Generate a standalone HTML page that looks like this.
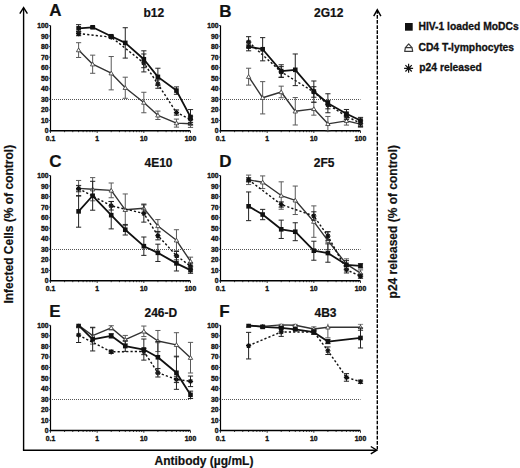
<!DOCTYPE html>
<html><head><meta charset="utf-8"><style>html,body{margin:0;padding:0;background:#fff;}svg{display:block;}</style></head>
<body>
<svg width="520" height="468" viewBox="0 0 520 468">
<rect width="520" height="468" fill="#fff"/>
<g stroke="#000" stroke-width="1.4" fill="none">
<path d="M23.6 450.2V8"/><path d="M19.8 13.6L23.6 7.6L27.4 13.6"/>
<path d="M22.9 450.2H376.6"/><path d="M370.8 446.5L376.8 450.2L370.8 453.9"/>
<path d="M377.3 9.98V449.5" stroke-dasharray="3.7,1.37"/><path d="M373.7 16.2L377.3 9.8L380.9 16.2"/>
</g>
<text font-family="Liberation Sans, sans-serif" font-weight="bold" font-size="12" transform="translate(13 224.2) rotate(-90)" text-anchor="middle" fill="#111" stroke="#111" stroke-width="0.2">Infected Cells (% of control)</text>
<text font-family="Liberation Sans, sans-serif" font-weight="bold" font-size="12" transform="translate(397.2 221.7) rotate(-90)" text-anchor="middle" fill="#111" stroke="#111" stroke-width="0.2">p24 released (% of control)</text>
<text font-family="Liberation Sans, sans-serif" font-weight="bold" font-size="12" x="154.5" y="464.8" fill="#111" stroke="#111" stroke-width="0.2">Antibody (µg/mL)</text>
<rect x="405" y="23" width="7.7" height="7.7" fill="#111"/>
<text font-family="Liberation Sans, sans-serif" font-weight="bold" font-size="10.3" x="418.5" y="29.9" fill="#111" stroke="#111" stroke-width="0.3">HIV-1 loaded MoDCs</text>
<g stroke="#3a3a3a" stroke-width="1.2" fill="none" stroke-linejoin="round"><path d="M408.7 43.9L405.4 47.6H412.0Z"/><path d="M405.4 47.6L404.7 51.3H412.7L412.0 47.6"/></g>
<text font-family="Liberation Sans, sans-serif" font-weight="bold" font-size="10.3" x="418.5" y="50.8" fill="#111" stroke="#111" stroke-width="0.3">CD4 T-lymphocytes</text>
<path d="M404.10 68.30L413.10 68.30M405.42 65.12L411.78 71.48M408.60 63.80L408.60 72.80M411.78 65.12L405.42 71.48" stroke="#111" stroke-width="1.2" fill="none"/><circle cx="408.6" cy="68.3" r="1.9" fill="#111"/>
<text font-family="Liberation Sans, sans-serif" font-weight="bold" font-size="10.3" x="419.3" y="71.3" fill="#111" stroke="#111" stroke-width="0.3">p24 released</text>
<text font-family="Liberation Sans, sans-serif" font-weight="bold" font-size="17" x="49.2" y="15.9" fill="#111" stroke="#111" stroke-width="0.2">A</text>
<text font-family="Liberation Sans, sans-serif" font-weight="bold" font-size="12" x="143.5" y="16.7" fill="#111" stroke="#111" stroke-width="0.2">b12</text>
<path d="M50.0 99.50H190.5" stroke="#555" stroke-width="1" stroke-dasharray="1,1"/>
<path d="M50.50 25.50V131.00" stroke="#000" stroke-width="1.2" fill="none"/>
<path d="M49.90 130.80H190.51" stroke="#000" stroke-width="1.5" fill="none"/>
<text font-family="Liberation Sans, sans-serif" font-weight="bold" font-size="6.8" x="48.5" y="133.45" text-anchor="end" fill="#111" stroke="#111" stroke-width="0.35">0</text>
<text font-family="Liberation Sans, sans-serif" font-weight="bold" font-size="6.8" x="48.5" y="122.90" text-anchor="end" fill="#111" stroke="#111" stroke-width="0.35">10</text>
<text font-family="Liberation Sans, sans-serif" font-weight="bold" font-size="6.8" x="48.5" y="112.35" text-anchor="end" fill="#111" stroke="#111" stroke-width="0.35">20</text>
<text font-family="Liberation Sans, sans-serif" font-weight="bold" font-size="6.8" x="48.5" y="101.80" text-anchor="end" fill="#111" stroke="#111" stroke-width="0.35">30</text>
<text font-family="Liberation Sans, sans-serif" font-weight="bold" font-size="6.8" x="48.5" y="91.25" text-anchor="end" fill="#111" stroke="#111" stroke-width="0.35">40</text>
<text font-family="Liberation Sans, sans-serif" font-weight="bold" font-size="6.8" x="48.5" y="80.70" text-anchor="end" fill="#111" stroke="#111" stroke-width="0.35">50</text>
<text font-family="Liberation Sans, sans-serif" font-weight="bold" font-size="6.8" x="48.5" y="70.15" text-anchor="end" fill="#111" stroke="#111" stroke-width="0.35">60</text>
<text font-family="Liberation Sans, sans-serif" font-weight="bold" font-size="6.8" x="48.5" y="59.60" text-anchor="end" fill="#111" stroke="#111" stroke-width="0.35">70</text>
<text font-family="Liberation Sans, sans-serif" font-weight="bold" font-size="6.8" x="48.5" y="49.05" text-anchor="end" fill="#111" stroke="#111" stroke-width="0.35">80</text>
<text font-family="Liberation Sans, sans-serif" font-weight="bold" font-size="6.8" x="48.5" y="38.50" text-anchor="end" fill="#111" stroke="#111" stroke-width="0.35">90</text>
<text font-family="Liberation Sans, sans-serif" font-weight="bold" font-size="6.8" x="48.5" y="27.95" text-anchor="end" fill="#111" stroke="#111" stroke-width="0.35">100</text>
<path d="M49.00 131.00H50.50M49.00 120.45H50.50M49.00 109.90H50.50M49.00 99.35H50.50M49.00 88.80H50.50M49.00 78.25H50.50M49.00 67.70H50.50M49.00 57.15H50.50M49.00 46.60H50.50M49.00 36.05H50.50M49.00 25.50H50.50M50.50 131.00v2M64.55 131.00v1.2M72.77 131.00v1.2M78.60 131.00v1.2M83.12 131.00v1.2M86.82 131.00v1.2M89.94 131.00v1.2M92.65 131.00v1.2M95.03 131.00v1.2M97.17 131.00v2M111.22 131.00v1.2M119.44 131.00v1.2M125.27 131.00v1.2M129.79 131.00v1.2M133.49 131.00v1.2M136.61 131.00v1.2M139.32 131.00v1.2M141.70 131.00v1.2M143.84 131.00v2M157.89 131.00v1.2M166.11 131.00v1.2M171.94 131.00v1.2M176.46 131.00v1.2M180.16 131.00v1.2M183.28 131.00v1.2M185.99 131.00v1.2M188.37 131.00v1.2M190.51 131.00v2" stroke="#222" stroke-width="0.9"/>
<text font-family="Liberation Sans, sans-serif" font-weight="bold" font-size="6.8" x="50.50" y="140.90" text-anchor="middle" fill="#111" stroke="#111" stroke-width="0.35">0.1</text>
<text font-family="Liberation Sans, sans-serif" font-weight="bold" font-size="6.8" x="97.17" y="140.90" text-anchor="middle" fill="#111" stroke="#111" stroke-width="0.35">1</text>
<text font-family="Liberation Sans, sans-serif" font-weight="bold" font-size="6.8" x="143.84" y="140.90" text-anchor="middle" fill="#111" stroke="#111" stroke-width="0.35">10</text>
<text font-family="Liberation Sans, sans-serif" font-weight="bold" font-size="6.8" x="190.51" y="140.90" text-anchor="middle" fill="#111" stroke="#111" stroke-width="0.35">100</text>
<clipPath id="cA"><rect x="45.5" y="24.0" width="150" height="112"/></clipPath>
<g clip-path="url(#cA)">
<path d="M78.60 42.70V57.47M76.00 42.70h5.2M76.00 57.47h5.2M92.65 55.15V73.29M90.05 55.15h5.2M90.05 73.29h5.2M111.22 56.52V89.86M108.62 56.52h5.2M108.62 89.86h5.2M125.27 77.20V98.30M122.67 77.20h5.2M122.67 98.30h5.2M143.84 92.28V112.75M141.24 92.28h5.2M141.24 112.75h5.2M157.89 111.06V119.50M155.29 111.06h5.2M155.29 119.50h5.2M176.46 119.08V127.10M173.86 119.08h5.2M173.86 127.10h5.2M190.51 120.03V127.41M187.91 120.03h5.2M187.91 127.41h5.2" stroke="#5a5a5a" stroke-width="1" fill="none"/>
<path d="M78.60 50.08L92.65 64.22L111.22 73.19L125.27 87.75L143.84 102.52L157.89 115.28L176.46 123.09L190.51 123.72" stroke="#333" stroke-width="1.4" fill="none" stroke-linejoin="round"/>
<path d="M78.60 47.98L80.80 51.78H76.40Z" stroke="#444" stroke-width="0.9" fill="#fff"/>
<path d="M92.65 62.12L94.85 65.92H90.45Z" stroke="#444" stroke-width="0.9" fill="#fff"/>
<path d="M111.22 71.09L113.42 74.89H109.02Z" stroke="#444" stroke-width="0.9" fill="#fff"/>
<path d="M125.27 85.65L127.47 89.45H123.07Z" stroke="#444" stroke-width="0.9" fill="#fff"/>
<path d="M143.84 100.42L146.04 104.22H141.64Z" stroke="#444" stroke-width="0.9" fill="#fff"/>
<path d="M157.89 113.18L160.09 116.98H155.69Z" stroke="#444" stroke-width="0.9" fill="#fff"/>
<path d="M176.46 120.99L178.66 124.79H174.26Z" stroke="#444" stroke-width="0.9" fill="#fff"/>
<path d="M190.51 121.62L192.71 125.42H188.31Z" stroke="#444" stroke-width="0.9" fill="#fff"/>
<path d="M78.60 31.51V35.73M76.00 31.51h5.2M76.00 35.73h5.2M111.22 36.05V38.16M108.62 36.05h5.2M108.62 38.16h5.2M143.84 53.98V71.92M141.24 53.98h5.2M141.24 71.92h5.2M157.89 79.83V88.27M155.29 79.83h5.2M155.29 88.27h5.2M176.46 109.90V115.17M173.86 109.90h5.2M173.86 115.17h5.2M190.51 116.23V122.56M187.91 116.23h5.2M187.91 122.56h5.2" stroke="#222" stroke-width="1" fill="none"/>
<path d="M78.60 33.62L111.22 37.11L143.84 62.95L157.89 84.05L176.46 112.54L190.51 119.39" stroke="#111" stroke-width="1.45" fill="none" stroke-linejoin="round" stroke-dasharray="2.2,2.1"/>
<path d="M76.00 33.62L81.20 33.62M76.76 31.79L80.44 35.46M78.60 31.02L78.60 36.22M80.44 31.79L76.76 35.46" stroke="#111" stroke-width="1.2" fill="none"/>
<path d="M108.62 37.11L113.82 37.11M109.38 35.27L113.06 38.94M111.22 34.51L111.22 39.71M113.06 35.27L109.38 38.94" stroke="#111" stroke-width="1.2" fill="none"/>
<path d="M141.24 62.95L146.44 62.95M142.00 61.11L145.68 64.79M143.84 60.35L143.84 65.55M145.68 61.11L142.00 64.79" stroke="#111" stroke-width="1.2" fill="none"/>
<path d="M155.29 84.05L160.49 84.05M156.05 82.21L159.73 85.89M157.89 81.45L157.89 86.65M159.73 82.21L156.05 85.89" stroke="#111" stroke-width="1.2" fill="none"/>
<path d="M173.86 112.54L179.06 112.54M174.62 110.70L178.30 114.38M176.46 109.94L176.46 115.14M178.30 110.70L174.62 114.38" stroke="#111" stroke-width="1.2" fill="none"/>
<path d="M187.91 119.39L193.11 119.39M188.67 117.56L192.35 121.23M190.51 116.80L190.51 121.99M192.35 117.56L188.67 121.23" stroke="#111" stroke-width="1.2" fill="none"/>
<path d="M78.60 24.66V32.04M76.00 24.66h5.2M76.00 32.04h5.2M92.65 26.24V28.35M90.05 26.24h5.2M90.05 28.35h5.2M111.22 35.21V37.32M108.62 35.21h5.2M108.62 37.32h5.2M125.27 27.72V58.10M122.67 27.72h5.2M122.67 58.10h5.2M143.84 50.82V67.70M141.24 50.82h5.2M141.24 67.70h5.2M157.89 68.23V85.53M155.29 68.23h5.2M155.29 85.53h5.2M176.46 86.90V94.29M173.86 86.90h5.2M173.86 94.29h5.2M190.51 109.58V124.35M187.91 109.58h5.2M187.91 124.35h5.2" stroke="#222" stroke-width="1" fill="none"/>
<path d="M78.60 28.35L92.65 27.29L111.22 36.26L125.27 42.91L143.84 59.26L157.89 76.88L176.46 90.59L190.51 116.97" stroke="#111" stroke-width="1.8" fill="none" stroke-linejoin="round"/>
<rect x="76.30" y="26.05" width="4.6" height="4.6" fill="#111"/>
<rect x="90.35" y="24.99" width="4.6" height="4.6" fill="#111"/>
<rect x="108.92" y="33.96" width="4.6" height="4.6" fill="#111"/>
<rect x="122.97" y="40.61" width="4.6" height="4.6" fill="#111"/>
<rect x="141.54" y="56.96" width="4.6" height="4.6" fill="#111"/>
<rect x="155.59" y="74.58" width="4.6" height="4.6" fill="#111"/>
<rect x="174.16" y="88.29" width="4.6" height="4.6" fill="#111"/>
<rect x="188.21" y="114.67" width="4.6" height="4.6" fill="#111"/>
</g>
<text font-family="Liberation Sans, sans-serif" font-weight="bold" font-size="17" x="219.2" y="16.7" fill="#111" stroke="#111" stroke-width="0.2">B</text>
<text font-family="Liberation Sans, sans-serif" font-weight="bold" font-size="12" x="314.0" y="16.7" fill="#111" stroke="#111" stroke-width="0.2">2G12</text>
<path d="M220.0 99.50H360.5" stroke="#555" stroke-width="1" stroke-dasharray="1,1"/>
<path d="M220.50 25.50V131.00" stroke="#000" stroke-width="1.2" fill="none"/>
<path d="M219.90 130.80H360.51" stroke="#000" stroke-width="1.5" fill="none"/>
<text font-family="Liberation Sans, sans-serif" font-weight="bold" font-size="6.8" x="218.5" y="133.45" text-anchor="end" fill="#111" stroke="#111" stroke-width="0.35">0</text>
<text font-family="Liberation Sans, sans-serif" font-weight="bold" font-size="6.8" x="218.5" y="122.90" text-anchor="end" fill="#111" stroke="#111" stroke-width="0.35">10</text>
<text font-family="Liberation Sans, sans-serif" font-weight="bold" font-size="6.8" x="218.5" y="112.35" text-anchor="end" fill="#111" stroke="#111" stroke-width="0.35">20</text>
<text font-family="Liberation Sans, sans-serif" font-weight="bold" font-size="6.8" x="218.5" y="101.80" text-anchor="end" fill="#111" stroke="#111" stroke-width="0.35">30</text>
<text font-family="Liberation Sans, sans-serif" font-weight="bold" font-size="6.8" x="218.5" y="91.25" text-anchor="end" fill="#111" stroke="#111" stroke-width="0.35">40</text>
<text font-family="Liberation Sans, sans-serif" font-weight="bold" font-size="6.8" x="218.5" y="80.70" text-anchor="end" fill="#111" stroke="#111" stroke-width="0.35">50</text>
<text font-family="Liberation Sans, sans-serif" font-weight="bold" font-size="6.8" x="218.5" y="70.15" text-anchor="end" fill="#111" stroke="#111" stroke-width="0.35">60</text>
<text font-family="Liberation Sans, sans-serif" font-weight="bold" font-size="6.8" x="218.5" y="59.60" text-anchor="end" fill="#111" stroke="#111" stroke-width="0.35">70</text>
<text font-family="Liberation Sans, sans-serif" font-weight="bold" font-size="6.8" x="218.5" y="49.05" text-anchor="end" fill="#111" stroke="#111" stroke-width="0.35">80</text>
<text font-family="Liberation Sans, sans-serif" font-weight="bold" font-size="6.8" x="218.5" y="38.50" text-anchor="end" fill="#111" stroke="#111" stroke-width="0.35">90</text>
<text font-family="Liberation Sans, sans-serif" font-weight="bold" font-size="6.8" x="218.5" y="27.95" text-anchor="end" fill="#111" stroke="#111" stroke-width="0.35">100</text>
<path d="M219.00 131.00H220.50M219.00 120.45H220.50M219.00 109.90H220.50M219.00 99.35H220.50M219.00 88.80H220.50M219.00 78.25H220.50M219.00 67.70H220.50M219.00 57.15H220.50M219.00 46.60H220.50M219.00 36.05H220.50M219.00 25.50H220.50M220.50 131.00v2M234.55 131.00v1.2M242.77 131.00v1.2M248.60 131.00v1.2M253.12 131.00v1.2M256.82 131.00v1.2M259.94 131.00v1.2M262.65 131.00v1.2M265.03 131.00v1.2M267.17 131.00v2M281.22 131.00v1.2M289.44 131.00v1.2M295.27 131.00v1.2M299.79 131.00v1.2M303.49 131.00v1.2M306.61 131.00v1.2M309.32 131.00v1.2M311.70 131.00v1.2M313.84 131.00v2M327.89 131.00v1.2M336.11 131.00v1.2M341.94 131.00v1.2M346.46 131.00v1.2M350.16 131.00v1.2M353.28 131.00v1.2M355.99 131.00v1.2M358.37 131.00v1.2M360.51 131.00v2" stroke="#222" stroke-width="0.9"/>
<text font-family="Liberation Sans, sans-serif" font-weight="bold" font-size="6.8" x="220.50" y="140.90" text-anchor="middle" fill="#111" stroke="#111" stroke-width="0.35">0.1</text>
<text font-family="Liberation Sans, sans-serif" font-weight="bold" font-size="6.8" x="267.17" y="140.90" text-anchor="middle" fill="#111" stroke="#111" stroke-width="0.35">1</text>
<text font-family="Liberation Sans, sans-serif" font-weight="bold" font-size="6.8" x="313.84" y="140.90" text-anchor="middle" fill="#111" stroke="#111" stroke-width="0.35">10</text>
<text font-family="Liberation Sans, sans-serif" font-weight="bold" font-size="6.8" x="360.51" y="140.90" text-anchor="middle" fill="#111" stroke="#111" stroke-width="0.35">100</text>
<clipPath id="cB"><rect x="215.5" y="24.0" width="150" height="112"/></clipPath>
<g clip-path="url(#cB)">
<path d="M248.60 68.23V85.11M246.00 68.23h5.2M246.00 85.11h5.2M262.65 81.63V113.91M260.05 81.63h5.2M260.05 113.91h5.2M281.22 86.16V97.77M278.62 86.16h5.2M278.62 97.77h5.2M295.27 97.56V124.99M292.67 97.56h5.2M292.67 124.99h5.2M313.84 102.52V115.17M311.24 102.52h5.2M311.24 115.17h5.2M327.89 116.44V131.21M325.29 116.44h5.2M325.29 131.21h5.2M346.46 116.65V125.09M343.86 116.65h5.2M343.86 125.09h5.2M360.51 120.98V127.31M357.91 120.98h5.2M357.91 127.31h5.2" stroke="#5a5a5a" stroke-width="1" fill="none"/>
<path d="M248.60 76.67L262.65 97.77L281.22 91.97L295.27 111.27L313.84 108.84L327.89 123.83L346.46 120.87L360.51 124.14" stroke="#333" stroke-width="1.4" fill="none" stroke-linejoin="round"/>
<path d="M248.60 74.57L250.80 78.37H246.40Z" stroke="#444" stroke-width="0.9" fill="#fff"/>
<path d="M262.65 95.67L264.85 99.47H260.45Z" stroke="#444" stroke-width="0.9" fill="#fff"/>
<path d="M281.22 89.87L283.42 93.67H279.02Z" stroke="#444" stroke-width="0.9" fill="#fff"/>
<path d="M295.27 109.17L297.47 112.97H293.07Z" stroke="#444" stroke-width="0.9" fill="#fff"/>
<path d="M313.84 106.75L316.04 110.55H311.64Z" stroke="#444" stroke-width="0.9" fill="#fff"/>
<path d="M327.89 121.73L330.09 125.53H325.69Z" stroke="#444" stroke-width="0.9" fill="#fff"/>
<path d="M346.46 118.77L348.66 122.57H344.26Z" stroke="#444" stroke-width="0.9" fill="#fff"/>
<path d="M360.51 122.04L362.71 125.84H358.31Z" stroke="#444" stroke-width="0.9" fill="#fff"/>
<path d="M248.60 36.68V47.23M246.00 36.68h5.2M246.00 47.23h5.2M281.22 66.64V77.20M278.62 66.64h5.2M278.62 77.20h5.2M313.84 86.69V97.24M311.24 86.69h5.2M311.24 97.24h5.2M327.89 100.41V108.84M325.29 100.41h5.2M325.29 108.84h5.2M346.46 113.06V119.40M343.86 113.06h5.2M343.86 119.40h5.2M360.51 120.13V126.46M357.91 120.13h5.2M357.91 126.46h5.2" stroke="#222" stroke-width="1" fill="none"/>
<path d="M248.60 41.96L281.22 71.92L313.84 91.97L327.89 104.62L346.46 116.23L360.51 123.30" stroke="#111" stroke-width="1.45" fill="none" stroke-linejoin="round" stroke-dasharray="2.2,2.1"/>
<path d="M246.00 41.96L251.20 41.96M246.76 40.12L250.44 43.80M248.60 39.36L248.60 44.56M250.44 40.12L246.76 43.80" stroke="#111" stroke-width="1.2" fill="none"/>
<path d="M278.62 71.92L283.82 71.92M279.38 70.08L283.06 73.76M281.22 69.32L281.22 74.52M283.06 70.08L279.38 73.76" stroke="#111" stroke-width="1.2" fill="none"/>
<path d="M311.24 91.97L316.44 91.97M312.00 90.13L315.68 93.80M313.84 89.37L313.84 94.56M315.68 90.13L312.00 93.80" stroke="#111" stroke-width="1.2" fill="none"/>
<path d="M325.29 104.62L330.49 104.62M326.05 102.79L329.73 106.46M327.89 102.03L327.89 107.22M329.73 102.79L326.05 106.46" stroke="#111" stroke-width="1.2" fill="none"/>
<path d="M343.86 116.23L349.06 116.23M344.62 114.39L348.30 118.07M346.46 113.63L346.46 118.83M348.30 114.39L344.62 118.07" stroke="#111" stroke-width="1.2" fill="none"/>
<path d="M357.91 123.30L363.11 123.30M358.67 121.46L362.35 125.14M360.51 120.70L360.51 125.90M362.35 121.46L358.67 125.14" stroke="#111" stroke-width="1.2" fill="none"/>
<path d="M248.60 42.38V50.82M246.00 42.38h5.2M246.00 50.82h5.2M262.65 37.63V60.84M260.05 37.63h5.2M260.05 60.84h5.2M281.22 64.75V77.41M278.62 64.75h5.2M278.62 77.41h5.2M295.27 53.98V85.64M292.67 53.98h5.2M292.67 85.64h5.2M313.84 80.99V102.09M311.24 80.99h5.2M311.24 102.09h5.2M327.89 93.76V112.75M325.29 93.76h5.2M325.29 112.75h5.2M346.46 109.48V117.92M343.86 109.48h5.2M343.86 117.92h5.2M360.51 117.39V123.72M357.91 117.39h5.2M357.91 123.72h5.2" stroke="#222" stroke-width="1" fill="none"/>
<path d="M248.60 46.60L262.65 49.24L281.22 71.08L295.27 69.81L313.84 91.54L327.89 103.25L346.46 113.70L360.51 120.56" stroke="#111" stroke-width="1.8" fill="none" stroke-linejoin="round"/>
<rect x="246.30" y="44.30" width="4.6" height="4.6" fill="#111"/>
<rect x="260.35" y="46.94" width="4.6" height="4.6" fill="#111"/>
<rect x="278.92" y="68.78" width="4.6" height="4.6" fill="#111"/>
<rect x="292.97" y="67.51" width="4.6" height="4.6" fill="#111"/>
<rect x="311.54" y="89.24" width="4.6" height="4.6" fill="#111"/>
<rect x="325.59" y="100.95" width="4.6" height="4.6" fill="#111"/>
<rect x="344.16" y="111.40" width="4.6" height="4.6" fill="#111"/>
<rect x="358.21" y="118.26" width="4.6" height="4.6" fill="#111"/>
</g>
<text font-family="Liberation Sans, sans-serif" font-weight="bold" font-size="17" x="49.2" y="166.7" fill="#111" stroke="#111" stroke-width="0.2">C</text>
<text font-family="Liberation Sans, sans-serif" font-weight="bold" font-size="12" x="144.5" y="166.7" fill="#111" stroke="#111" stroke-width="0.2">4E10</text>
<path d="M50.0 249.50H190.5" stroke="#555" stroke-width="1" stroke-dasharray="1,1"/>
<path d="M50.50 175.50V281.00" stroke="#000" stroke-width="1.2" fill="none"/>
<path d="M49.90 280.80H190.51" stroke="#000" stroke-width="1.5" fill="none"/>
<text font-family="Liberation Sans, sans-serif" font-weight="bold" font-size="6.8" x="48.5" y="283.45" text-anchor="end" fill="#111" stroke="#111" stroke-width="0.35">0</text>
<text font-family="Liberation Sans, sans-serif" font-weight="bold" font-size="6.8" x="48.5" y="272.90" text-anchor="end" fill="#111" stroke="#111" stroke-width="0.35">10</text>
<text font-family="Liberation Sans, sans-serif" font-weight="bold" font-size="6.8" x="48.5" y="262.35" text-anchor="end" fill="#111" stroke="#111" stroke-width="0.35">20</text>
<text font-family="Liberation Sans, sans-serif" font-weight="bold" font-size="6.8" x="48.5" y="251.80" text-anchor="end" fill="#111" stroke="#111" stroke-width="0.35">30</text>
<text font-family="Liberation Sans, sans-serif" font-weight="bold" font-size="6.8" x="48.5" y="241.25" text-anchor="end" fill="#111" stroke="#111" stroke-width="0.35">40</text>
<text font-family="Liberation Sans, sans-serif" font-weight="bold" font-size="6.8" x="48.5" y="230.70" text-anchor="end" fill="#111" stroke="#111" stroke-width="0.35">50</text>
<text font-family="Liberation Sans, sans-serif" font-weight="bold" font-size="6.8" x="48.5" y="220.15" text-anchor="end" fill="#111" stroke="#111" stroke-width="0.35">60</text>
<text font-family="Liberation Sans, sans-serif" font-weight="bold" font-size="6.8" x="48.5" y="209.60" text-anchor="end" fill="#111" stroke="#111" stroke-width="0.35">70</text>
<text font-family="Liberation Sans, sans-serif" font-weight="bold" font-size="6.8" x="48.5" y="199.05" text-anchor="end" fill="#111" stroke="#111" stroke-width="0.35">80</text>
<text font-family="Liberation Sans, sans-serif" font-weight="bold" font-size="6.8" x="48.5" y="188.50" text-anchor="end" fill="#111" stroke="#111" stroke-width="0.35">90</text>
<text font-family="Liberation Sans, sans-serif" font-weight="bold" font-size="6.8" x="48.5" y="177.95" text-anchor="end" fill="#111" stroke="#111" stroke-width="0.35">100</text>
<path d="M49.00 281.00H50.50M49.00 270.45H50.50M49.00 259.90H50.50M49.00 249.35H50.50M49.00 238.80H50.50M49.00 228.25H50.50M49.00 217.70H50.50M49.00 207.15H50.50M49.00 196.60H50.50M49.00 186.05H50.50M49.00 175.50H50.50M50.50 281.00v2M64.55 281.00v1.2M72.77 281.00v1.2M78.60 281.00v1.2M83.12 281.00v1.2M86.82 281.00v1.2M89.94 281.00v1.2M92.65 281.00v1.2M95.03 281.00v1.2M97.17 281.00v2M111.22 281.00v1.2M119.44 281.00v1.2M125.27 281.00v1.2M129.79 281.00v1.2M133.49 281.00v1.2M136.61 281.00v1.2M139.32 281.00v1.2M141.70 281.00v1.2M143.84 281.00v2M157.89 281.00v1.2M166.11 281.00v1.2M171.94 281.00v1.2M176.46 281.00v1.2M180.16 281.00v1.2M183.28 281.00v1.2M185.99 281.00v1.2M188.37 281.00v1.2M190.51 281.00v2" stroke="#222" stroke-width="0.9"/>
<text font-family="Liberation Sans, sans-serif" font-weight="bold" font-size="6.8" x="50.50" y="290.90" text-anchor="middle" fill="#111" stroke="#111" stroke-width="0.35">0.1</text>
<text font-family="Liberation Sans, sans-serif" font-weight="bold" font-size="6.8" x="97.17" y="290.90" text-anchor="middle" fill="#111" stroke="#111" stroke-width="0.35">1</text>
<text font-family="Liberation Sans, sans-serif" font-weight="bold" font-size="6.8" x="143.84" y="290.90" text-anchor="middle" fill="#111" stroke="#111" stroke-width="0.35">10</text>
<text font-family="Liberation Sans, sans-serif" font-weight="bold" font-size="6.8" x="190.51" y="290.90" text-anchor="middle" fill="#111" stroke="#111" stroke-width="0.35">100</text>
<clipPath id="cC"><rect x="45.5" y="174.0" width="150" height="112"/></clipPath>
<g clip-path="url(#cC)">
<path d="M78.60 180.46V196.28M76.00 180.46h5.2M76.00 196.28h5.2M92.65 177.61V200.82M90.05 177.61h5.2M90.05 200.82h5.2M111.22 182.99V197.76M108.62 182.99h5.2M108.62 197.76h5.2M125.27 193.96V225.61M122.67 193.96h5.2M122.67 225.61h5.2M143.84 203.98V212.42M141.24 203.98h5.2M141.24 212.42h5.2M157.89 219.60V232.26M155.29 219.60h5.2M155.29 232.26h5.2M176.46 229.73V250.83M173.86 229.73h5.2M173.86 250.83h5.2M190.51 257.16V265.60M187.91 257.16h5.2M187.91 265.60h5.2" stroke="#5a5a5a" stroke-width="1" fill="none"/>
<path d="M78.60 188.37L92.65 189.22L111.22 190.38L125.27 209.79L143.84 208.20L157.89 225.93L176.46 240.28L190.51 261.38" stroke="#333" stroke-width="1.4" fill="none" stroke-linejoin="round"/>
<path d="M78.60 186.27L80.80 190.07H76.40Z" stroke="#444" stroke-width="0.9" fill="#fff"/>
<path d="M92.65 187.12L94.85 190.91H90.45Z" stroke="#444" stroke-width="0.9" fill="#fff"/>
<path d="M111.22 188.28L113.42 192.08H109.02Z" stroke="#444" stroke-width="0.9" fill="#fff"/>
<path d="M125.27 207.69L127.47 211.49H123.07Z" stroke="#444" stroke-width="0.9" fill="#fff"/>
<path d="M143.84 206.10L146.04 209.90H141.64Z" stroke="#444" stroke-width="0.9" fill="#fff"/>
<path d="M157.89 223.83L160.09 227.63H155.69Z" stroke="#444" stroke-width="0.9" fill="#fff"/>
<path d="M176.46 238.18L178.66 241.98H174.26Z" stroke="#444" stroke-width="0.9" fill="#fff"/>
<path d="M190.51 259.28L192.71 263.08H188.31Z" stroke="#444" stroke-width="0.9" fill="#fff"/>
<path d="M78.60 185.42V191.75M76.00 185.42h5.2M76.00 191.75h5.2M111.22 201.56V210.00M108.62 201.56h5.2M108.62 210.00h5.2M143.84 204.83V222.13M141.24 204.83h5.2M141.24 222.13h5.2M157.89 231.41V239.85M155.29 231.41h5.2M155.29 239.85h5.2M176.46 251.46V259.90M173.86 251.46h5.2M173.86 259.90h5.2M190.51 263.06V269.40M187.91 263.06h5.2M187.91 269.40h5.2" stroke="#222" stroke-width="1" fill="none"/>
<path d="M78.60 188.58L111.22 205.78L143.84 213.48L157.89 235.63L176.46 255.68L190.51 266.23" stroke="#111" stroke-width="1.45" fill="none" stroke-linejoin="round" stroke-dasharray="2.2,2.1"/>
<path d="M76.00 188.58L81.20 188.58M76.76 186.74L80.44 190.42M78.60 185.98L78.60 191.18M80.44 186.74L76.76 190.42" stroke="#111" stroke-width="1.2" fill="none"/>
<path d="M108.62 205.78L113.82 205.78M109.38 203.94L113.06 207.62M111.22 203.18L111.22 208.38M113.06 203.94L109.38 207.62" stroke="#111" stroke-width="1.2" fill="none"/>
<path d="M141.24 213.48L146.44 213.48M142.00 211.64L145.68 215.32M143.84 210.88L143.84 216.08M145.68 211.64L142.00 215.32" stroke="#111" stroke-width="1.2" fill="none"/>
<path d="M155.29 235.63L160.49 235.63M156.05 233.80L159.73 237.47M157.89 233.03L157.89 238.23M159.73 233.80L156.05 237.47" stroke="#111" stroke-width="1.2" fill="none"/>
<path d="M173.86 255.68L179.06 255.68M174.62 253.84L178.30 257.52M176.46 253.08L176.46 258.28M178.30 253.84L174.62 257.52" stroke="#111" stroke-width="1.2" fill="none"/>
<path d="M187.91 266.23L193.11 266.23M188.67 264.39L192.35 268.07M190.51 263.63L190.51 268.83M192.35 264.39L188.67 268.07" stroke="#111" stroke-width="1.2" fill="none"/>
<path d="M78.60 195.55V227.19M76.00 195.55h5.2M76.00 227.19h5.2M92.65 181.30V210.21M90.05 181.30h5.2M90.05 210.21h5.2M111.22 201.45V228.88M108.62 201.45h5.2M108.62 228.88h5.2M125.27 224.45V235.00M122.67 224.45h5.2M122.67 235.00h5.2M143.84 237.01V255.36M141.24 237.01h5.2M141.24 255.36h5.2M157.89 244.18V261.48M155.29 244.18h5.2M155.29 261.48h5.2M176.46 255.79V270.98M173.86 255.79h5.2M173.86 270.98h5.2M190.51 266.97V273.30M187.91 266.97h5.2M187.91 273.30h5.2" stroke="#222" stroke-width="1" fill="none"/>
<path d="M78.60 211.37L92.65 195.76L111.22 215.17L125.27 229.73L143.84 246.19L157.89 252.83L176.46 263.38L190.51 270.13" stroke="#111" stroke-width="1.8" fill="none" stroke-linejoin="round"/>
<rect x="76.30" y="209.07" width="4.6" height="4.6" fill="#111"/>
<rect x="90.35" y="193.46" width="4.6" height="4.6" fill="#111"/>
<rect x="108.92" y="212.87" width="4.6" height="4.6" fill="#111"/>
<rect x="122.97" y="227.43" width="4.6" height="4.6" fill="#111"/>
<rect x="141.54" y="243.88" width="4.6" height="4.6" fill="#111"/>
<rect x="155.59" y="250.53" width="4.6" height="4.6" fill="#111"/>
<rect x="174.16" y="261.08" width="4.6" height="4.6" fill="#111"/>
<rect x="188.21" y="267.83" width="4.6" height="4.6" fill="#111"/>
</g>
<text font-family="Liberation Sans, sans-serif" font-weight="bold" font-size="17" x="219.2" y="166.7" fill="#111" stroke="#111" stroke-width="0.2">D</text>
<text font-family="Liberation Sans, sans-serif" font-weight="bold" font-size="12" x="313.8" y="166.7" fill="#111" stroke="#111" stroke-width="0.2">2F5</text>
<path d="M220.0 249.50H360.5" stroke="#555" stroke-width="1" stroke-dasharray="1,1"/>
<path d="M220.50 175.50V281.00" stroke="#000" stroke-width="1.2" fill="none"/>
<path d="M219.90 280.80H360.51" stroke="#000" stroke-width="1.5" fill="none"/>
<text font-family="Liberation Sans, sans-serif" font-weight="bold" font-size="6.8" x="218.5" y="283.45" text-anchor="end" fill="#111" stroke="#111" stroke-width="0.35">0</text>
<text font-family="Liberation Sans, sans-serif" font-weight="bold" font-size="6.8" x="218.5" y="272.90" text-anchor="end" fill="#111" stroke="#111" stroke-width="0.35">10</text>
<text font-family="Liberation Sans, sans-serif" font-weight="bold" font-size="6.8" x="218.5" y="262.35" text-anchor="end" fill="#111" stroke="#111" stroke-width="0.35">20</text>
<text font-family="Liberation Sans, sans-serif" font-weight="bold" font-size="6.8" x="218.5" y="251.80" text-anchor="end" fill="#111" stroke="#111" stroke-width="0.35">30</text>
<text font-family="Liberation Sans, sans-serif" font-weight="bold" font-size="6.8" x="218.5" y="241.25" text-anchor="end" fill="#111" stroke="#111" stroke-width="0.35">40</text>
<text font-family="Liberation Sans, sans-serif" font-weight="bold" font-size="6.8" x="218.5" y="230.70" text-anchor="end" fill="#111" stroke="#111" stroke-width="0.35">50</text>
<text font-family="Liberation Sans, sans-serif" font-weight="bold" font-size="6.8" x="218.5" y="220.15" text-anchor="end" fill="#111" stroke="#111" stroke-width="0.35">60</text>
<text font-family="Liberation Sans, sans-serif" font-weight="bold" font-size="6.8" x="218.5" y="209.60" text-anchor="end" fill="#111" stroke="#111" stroke-width="0.35">70</text>
<text font-family="Liberation Sans, sans-serif" font-weight="bold" font-size="6.8" x="218.5" y="199.05" text-anchor="end" fill="#111" stroke="#111" stroke-width="0.35">80</text>
<text font-family="Liberation Sans, sans-serif" font-weight="bold" font-size="6.8" x="218.5" y="188.50" text-anchor="end" fill="#111" stroke="#111" stroke-width="0.35">90</text>
<text font-family="Liberation Sans, sans-serif" font-weight="bold" font-size="6.8" x="218.5" y="177.95" text-anchor="end" fill="#111" stroke="#111" stroke-width="0.35">100</text>
<path d="M219.00 281.00H220.50M219.00 270.45H220.50M219.00 259.90H220.50M219.00 249.35H220.50M219.00 238.80H220.50M219.00 228.25H220.50M219.00 217.70H220.50M219.00 207.15H220.50M219.00 196.60H220.50M219.00 186.05H220.50M219.00 175.50H220.50M220.50 281.00v2M234.55 281.00v1.2M242.77 281.00v1.2M248.60 281.00v1.2M253.12 281.00v1.2M256.82 281.00v1.2M259.94 281.00v1.2M262.65 281.00v1.2M265.03 281.00v1.2M267.17 281.00v2M281.22 281.00v1.2M289.44 281.00v1.2M295.27 281.00v1.2M299.79 281.00v1.2M303.49 281.00v1.2M306.61 281.00v1.2M309.32 281.00v1.2M311.70 281.00v1.2M313.84 281.00v2M327.89 281.00v1.2M336.11 281.00v1.2M341.94 281.00v1.2M346.46 281.00v1.2M350.16 281.00v1.2M353.28 281.00v1.2M355.99 281.00v1.2M358.37 281.00v1.2M360.51 281.00v2" stroke="#222" stroke-width="0.9"/>
<text font-family="Liberation Sans, sans-serif" font-weight="bold" font-size="6.8" x="220.50" y="290.90" text-anchor="middle" fill="#111" stroke="#111" stroke-width="0.35">0.1</text>
<text font-family="Liberation Sans, sans-serif" font-weight="bold" font-size="6.8" x="267.17" y="290.90" text-anchor="middle" fill="#111" stroke="#111" stroke-width="0.35">1</text>
<text font-family="Liberation Sans, sans-serif" font-weight="bold" font-size="6.8" x="313.84" y="290.90" text-anchor="middle" fill="#111" stroke="#111" stroke-width="0.35">10</text>
<text font-family="Liberation Sans, sans-serif" font-weight="bold" font-size="6.8" x="360.51" y="290.90" text-anchor="middle" fill="#111" stroke="#111" stroke-width="0.35">100</text>
<clipPath id="cD"><rect x="215.5" y="174.0" width="150" height="112"/></clipPath>
<g clip-path="url(#cD)">
<path d="M248.60 175.08V184.57M246.00 175.08h5.2M246.00 184.57h5.2M262.65 175.92V188.58M260.05 175.92h5.2M260.05 188.58h5.2M281.22 181.83V209.26M278.62 181.83h5.2M278.62 209.26h5.2M295.27 186.05V214.54M292.67 186.05h5.2M292.67 214.54h5.2M313.84 205.88V237.32M311.24 205.88h5.2M311.24 237.32h5.2M327.89 231.63V249.56M325.29 231.63h5.2M325.29 249.56h5.2M346.46 258.85V269.39M343.86 258.85h5.2M343.86 269.39h5.2M360.51 269.92V276.25M357.91 269.92h5.2M357.91 276.25h5.2" stroke="#5a5a5a" stroke-width="1" fill="none"/>
<path d="M248.60 179.83L262.65 182.25L281.22 195.55L295.27 200.29L313.84 221.60L327.89 240.59L346.46 264.12L360.51 273.09" stroke="#333" stroke-width="1.4" fill="none" stroke-linejoin="round"/>
<path d="M248.60 177.73L250.80 181.53H246.40Z" stroke="#444" stroke-width="0.9" fill="#fff"/>
<path d="M262.65 180.15L264.85 183.95H260.45Z" stroke="#444" stroke-width="0.9" fill="#fff"/>
<path d="M281.22 193.45L283.42 197.25H279.02Z" stroke="#444" stroke-width="0.9" fill="#fff"/>
<path d="M295.27 198.19L297.47 201.99H293.07Z" stroke="#444" stroke-width="0.9" fill="#fff"/>
<path d="M313.84 219.50L316.04 223.30H311.64Z" stroke="#444" stroke-width="0.9" fill="#fff"/>
<path d="M327.89 238.49L330.09 242.29H325.69Z" stroke="#444" stroke-width="0.9" fill="#fff"/>
<path d="M346.46 262.02L348.66 265.82H344.26Z" stroke="#444" stroke-width="0.9" fill="#fff"/>
<path d="M360.51 270.99L362.71 274.79H358.31Z" stroke="#444" stroke-width="0.9" fill="#fff"/>
<path d="M248.60 177.72V181.94M246.00 177.72h5.2M246.00 181.94h5.2M281.22 201.88V207.15M278.62 201.88h5.2M278.62 207.15h5.2M313.84 211.79V220.23M311.24 211.79h5.2M311.24 220.23h5.2M327.89 231.84V240.28M325.29 231.84h5.2M325.29 240.28h5.2M346.46 266.65V272.98M343.86 266.65h5.2M343.86 272.98h5.2M360.51 274.04V278.26M357.91 274.04h5.2M357.91 278.26h5.2" stroke="#222" stroke-width="1" fill="none"/>
<path d="M248.60 179.83L281.22 204.51L313.84 216.01L327.89 236.06L346.46 269.82L360.51 276.15" stroke="#111" stroke-width="1.45" fill="none" stroke-linejoin="round" stroke-dasharray="2.2,2.1"/>
<path d="M246.00 179.83L251.20 179.83M246.76 177.99L250.44 181.66M248.60 177.23L248.60 182.43M250.44 177.99L246.76 181.66" stroke="#111" stroke-width="1.2" fill="none"/>
<path d="M278.62 204.51L283.82 204.51M279.38 202.67L283.06 206.35M281.22 201.91L281.22 207.11M283.06 202.67L279.38 206.35" stroke="#111" stroke-width="1.2" fill="none"/>
<path d="M311.24 216.01L316.44 216.01M312.00 214.17L315.68 217.85M313.84 213.41L313.84 218.61M315.68 214.17L312.00 217.85" stroke="#111" stroke-width="1.2" fill="none"/>
<path d="M325.29 236.06L330.49 236.06M326.05 234.22L329.73 237.90M327.89 233.46L327.89 238.66M329.73 234.22L326.05 237.90" stroke="#111" stroke-width="1.2" fill="none"/>
<path d="M343.86 269.82L349.06 269.82M344.62 267.98L348.30 271.66M346.46 267.22L346.46 272.42M348.30 267.98L344.62 271.66" stroke="#111" stroke-width="1.2" fill="none"/>
<path d="M357.91 276.15L363.11 276.15M358.67 274.31L362.35 277.99M360.51 273.55L360.51 278.75M362.35 274.31L358.67 277.99" stroke="#111" stroke-width="1.2" fill="none"/>
<path d="M248.60 191.96V220.65M246.00 191.96h5.2M246.00 220.65h5.2M262.65 209.37V219.70M260.05 209.37h5.2M260.05 219.70h5.2M281.22 220.13V238.48M278.62 220.13h5.2M278.62 238.48h5.2M295.27 222.76V240.70M292.67 222.76h5.2M292.67 240.70h5.2M313.84 241.23V260.22M311.24 241.23h5.2M311.24 260.22h5.2M327.89 243.86V262.22M325.29 243.86h5.2M325.29 262.22h5.2M346.46 260.64V269.08M343.86 260.64h5.2M343.86 269.08h5.2M360.51 263.70V267.92M357.91 263.70h5.2M357.91 267.92h5.2" stroke="#222" stroke-width="1" fill="none"/>
<path d="M248.60 206.31L262.65 214.54L281.22 229.31L295.27 231.73L313.84 250.72L327.89 253.04L346.46 264.86L360.51 265.81" stroke="#111" stroke-width="1.8" fill="none" stroke-linejoin="round"/>
<rect x="246.30" y="204.01" width="4.6" height="4.6" fill="#111"/>
<rect x="260.35" y="212.24" width="4.6" height="4.6" fill="#111"/>
<rect x="278.92" y="227.00" width="4.6" height="4.6" fill="#111"/>
<rect x="292.97" y="229.43" width="4.6" height="4.6" fill="#111"/>
<rect x="311.54" y="248.42" width="4.6" height="4.6" fill="#111"/>
<rect x="325.59" y="250.74" width="4.6" height="4.6" fill="#111"/>
<rect x="344.16" y="262.56" width="4.6" height="4.6" fill="#111"/>
<rect x="358.21" y="263.51" width="4.6" height="4.6" fill="#111"/>
</g>
<text font-family="Liberation Sans, sans-serif" font-weight="bold" font-size="17" x="49.2" y="316.5" fill="#111" stroke="#111" stroke-width="0.2">E</text>
<text font-family="Liberation Sans, sans-serif" font-weight="bold" font-size="12" x="144.5" y="316.5" fill="#111" stroke="#111" stroke-width="0.2">246-D</text>
<path d="M50.0 399.50H190.5" stroke="#555" stroke-width="1" stroke-dasharray="1,1"/>
<path d="M50.50 325.30V430.80" stroke="#000" stroke-width="1.2" fill="none"/>
<path d="M49.90 430.60H190.51" stroke="#000" stroke-width="1.5" fill="none"/>
<text font-family="Liberation Sans, sans-serif" font-weight="bold" font-size="6.8" x="48.5" y="433.25" text-anchor="end" fill="#111" stroke="#111" stroke-width="0.35">0</text>
<text font-family="Liberation Sans, sans-serif" font-weight="bold" font-size="6.8" x="48.5" y="422.70" text-anchor="end" fill="#111" stroke="#111" stroke-width="0.35">10</text>
<text font-family="Liberation Sans, sans-serif" font-weight="bold" font-size="6.8" x="48.5" y="412.15" text-anchor="end" fill="#111" stroke="#111" stroke-width="0.35">20</text>
<text font-family="Liberation Sans, sans-serif" font-weight="bold" font-size="6.8" x="48.5" y="401.60" text-anchor="end" fill="#111" stroke="#111" stroke-width="0.35">30</text>
<text font-family="Liberation Sans, sans-serif" font-weight="bold" font-size="6.8" x="48.5" y="391.05" text-anchor="end" fill="#111" stroke="#111" stroke-width="0.35">40</text>
<text font-family="Liberation Sans, sans-serif" font-weight="bold" font-size="6.8" x="48.5" y="380.50" text-anchor="end" fill="#111" stroke="#111" stroke-width="0.35">50</text>
<text font-family="Liberation Sans, sans-serif" font-weight="bold" font-size="6.8" x="48.5" y="369.95" text-anchor="end" fill="#111" stroke="#111" stroke-width="0.35">60</text>
<text font-family="Liberation Sans, sans-serif" font-weight="bold" font-size="6.8" x="48.5" y="359.40" text-anchor="end" fill="#111" stroke="#111" stroke-width="0.35">70</text>
<text font-family="Liberation Sans, sans-serif" font-weight="bold" font-size="6.8" x="48.5" y="348.85" text-anchor="end" fill="#111" stroke="#111" stroke-width="0.35">80</text>
<text font-family="Liberation Sans, sans-serif" font-weight="bold" font-size="6.8" x="48.5" y="338.30" text-anchor="end" fill="#111" stroke="#111" stroke-width="0.35">90</text>
<text font-family="Liberation Sans, sans-serif" font-weight="bold" font-size="6.8" x="48.5" y="327.75" text-anchor="end" fill="#111" stroke="#111" stroke-width="0.35">100</text>
<path d="M49.00 430.80H50.50M49.00 420.25H50.50M49.00 409.70H50.50M49.00 399.15H50.50M49.00 388.60H50.50M49.00 378.05H50.50M49.00 367.50H50.50M49.00 356.95H50.50M49.00 346.40H50.50M49.00 335.85H50.50M49.00 325.30H50.50M50.50 430.80v2M64.55 430.80v1.2M72.77 430.80v1.2M78.60 430.80v1.2M83.12 430.80v1.2M86.82 430.80v1.2M89.94 430.80v1.2M92.65 430.80v1.2M95.03 430.80v1.2M97.17 430.80v2M111.22 430.80v1.2M119.44 430.80v1.2M125.27 430.80v1.2M129.79 430.80v1.2M133.49 430.80v1.2M136.61 430.80v1.2M139.32 430.80v1.2M141.70 430.80v1.2M143.84 430.80v2M157.89 430.80v1.2M166.11 430.80v1.2M171.94 430.80v1.2M176.46 430.80v1.2M180.16 430.80v1.2M183.28 430.80v1.2M185.99 430.80v1.2M188.37 430.80v1.2M190.51 430.80v2" stroke="#222" stroke-width="0.9"/>
<text font-family="Liberation Sans, sans-serif" font-weight="bold" font-size="6.8" x="50.50" y="440.70" text-anchor="middle" fill="#111" stroke="#111" stroke-width="0.35">0.1</text>
<text font-family="Liberation Sans, sans-serif" font-weight="bold" font-size="6.8" x="97.17" y="440.70" text-anchor="middle" fill="#111" stroke="#111" stroke-width="0.35">1</text>
<text font-family="Liberation Sans, sans-serif" font-weight="bold" font-size="6.8" x="143.84" y="440.70" text-anchor="middle" fill="#111" stroke="#111" stroke-width="0.35">10</text>
<text font-family="Liberation Sans, sans-serif" font-weight="bold" font-size="6.8" x="190.51" y="440.70" text-anchor="middle" fill="#111" stroke="#111" stroke-width="0.35">100</text>
<clipPath id="cE"><rect x="45.5" y="323.8" width="150" height="112"/></clipPath>
<g clip-path="url(#cE)">
<path d="M92.65 327.20V344.08M90.05 327.20h5.2M90.05 344.08h5.2M111.22 325.72V329.94M108.62 325.72h5.2M108.62 329.94h5.2M125.27 335.43V343.87M122.67 335.43h5.2M122.67 343.87h5.2M143.84 326.04V336.59M141.24 326.04h5.2M141.24 336.59h5.2M157.89 330.47V351.57M155.29 330.47h5.2M155.29 351.57h5.2M176.46 332.69V356.95M173.86 332.69h5.2M173.86 356.95h5.2M190.51 342.39V372.99M187.91 342.39h5.2M187.91 372.99h5.2" stroke="#5a5a5a" stroke-width="1" fill="none"/>
<path d="M78.60 325.30L92.65 335.64L111.22 327.83L125.27 339.65L143.84 331.31L157.89 341.02L176.46 344.82L190.51 357.69" stroke="#333" stroke-width="1.4" fill="none" stroke-linejoin="round"/>
<path d="M78.60 323.20L80.80 327.00H76.40Z" stroke="#444" stroke-width="0.9" fill="#fff"/>
<path d="M92.65 333.54L94.85 337.34H90.45Z" stroke="#444" stroke-width="0.9" fill="#fff"/>
<path d="M111.22 325.73L113.42 329.53H109.02Z" stroke="#444" stroke-width="0.9" fill="#fff"/>
<path d="M125.27 337.55L127.47 341.35H123.07Z" stroke="#444" stroke-width="0.9" fill="#fff"/>
<path d="M143.84 329.21L146.04 333.01H141.64Z" stroke="#444" stroke-width="0.9" fill="#fff"/>
<path d="M157.89 338.92L160.09 342.72H155.69Z" stroke="#444" stroke-width="0.9" fill="#fff"/>
<path d="M176.46 342.72L178.66 346.52H174.26Z" stroke="#444" stroke-width="0.9" fill="#fff"/>
<path d="M190.51 355.59L192.71 359.39H188.31Z" stroke="#444" stroke-width="0.9" fill="#fff"/>
<path d="M78.60 327.73V342.50M76.00 327.73h5.2M76.00 342.50h5.2M111.22 350.20V353.36M108.62 350.20h5.2M108.62 353.36h5.2M143.84 348.30V354.63M141.24 348.30h5.2M141.24 354.63h5.2M157.89 368.56V377.00M155.29 368.56h5.2M155.29 377.00h5.2M176.46 376.26V382.59M173.86 376.26h5.2M173.86 382.59h5.2M190.51 376.05V386.60M187.91 376.05h5.2M187.91 386.60h5.2" stroke="#222" stroke-width="1" fill="none"/>
<path d="M78.60 335.11L111.22 351.78L143.84 351.46L157.89 372.78L176.46 379.42L190.51 381.32" stroke="#111" stroke-width="1.45" fill="none" stroke-linejoin="round" stroke-dasharray="2.2,2.1"/>
<path d="M76.00 335.11L81.20 335.11M76.76 333.27L80.44 336.95M78.60 332.51L78.60 337.71M80.44 333.27L76.76 336.95" stroke="#111" stroke-width="1.2" fill="none"/>
<path d="M108.62 351.78L113.82 351.78M109.38 349.94L113.06 353.62M111.22 349.18L111.22 354.38M113.06 349.94L109.38 353.62" stroke="#111" stroke-width="1.2" fill="none"/>
<path d="M141.24 351.46L146.44 351.46M142.00 349.63L145.68 353.30M143.84 348.86L143.84 354.06M145.68 349.63L142.00 353.30" stroke="#111" stroke-width="1.2" fill="none"/>
<path d="M155.29 372.78L160.49 372.78M156.05 370.94L159.73 374.61M157.89 370.18L157.89 375.38M159.73 370.94L156.05 374.61" stroke="#111" stroke-width="1.2" fill="none"/>
<path d="M173.86 379.42L179.06 379.42M174.62 377.58L178.30 381.26M176.46 376.82L176.46 382.02M178.30 377.58L174.62 381.26" stroke="#111" stroke-width="1.2" fill="none"/>
<path d="M187.91 381.32L193.11 381.32M188.67 379.48L192.35 383.16M190.51 378.72L190.51 383.92M192.35 379.48L188.67 383.16" stroke="#111" stroke-width="1.2" fill="none"/>
<path d="M92.65 327.73V350.94M90.05 327.73h5.2M90.05 350.94h5.2M111.22 333.74V337.96M108.62 333.74h5.2M108.62 337.96h5.2M125.27 340.81V351.36M122.67 340.81h5.2M122.67 351.36h5.2M143.84 339.01V360.12M141.24 339.01h5.2M141.24 360.12h5.2M157.89 341.44V373.09M155.29 341.44h5.2M155.29 373.09h5.2M176.46 356.21V389.34M173.86 356.21h5.2M173.86 389.34h5.2M190.51 391.13V398.52M187.91 391.13h5.2M187.91 398.52h5.2" stroke="#222" stroke-width="1" fill="none"/>
<path d="M78.60 325.30L92.65 339.33L111.22 335.85L125.27 346.08L143.84 349.56L157.89 357.27L176.46 372.78L190.51 394.82" stroke="#111" stroke-width="1.8" fill="none" stroke-linejoin="round"/>
<rect x="76.30" y="323.00" width="4.6" height="4.6" fill="#111"/>
<rect x="90.35" y="337.03" width="4.6" height="4.6" fill="#111"/>
<rect x="108.92" y="333.55" width="4.6" height="4.6" fill="#111"/>
<rect x="122.97" y="343.78" width="4.6" height="4.6" fill="#111"/>
<rect x="141.54" y="347.26" width="4.6" height="4.6" fill="#111"/>
<rect x="155.59" y="354.97" width="4.6" height="4.6" fill="#111"/>
<rect x="174.16" y="370.48" width="4.6" height="4.6" fill="#111"/>
<rect x="188.21" y="392.52" width="4.6" height="4.6" fill="#111"/>
</g>
<text font-family="Liberation Sans, sans-serif" font-weight="bold" font-size="17" x="219.2" y="316.5" fill="#111" stroke="#111" stroke-width="0.2">F</text>
<text font-family="Liberation Sans, sans-serif" font-weight="bold" font-size="12" x="314.5" y="316.5" fill="#111" stroke="#111" stroke-width="0.2">4B3</text>
<path d="M220.0 399.50H360.5" stroke="#555" stroke-width="1" stroke-dasharray="1,1"/>
<path d="M220.50 325.30V430.80" stroke="#000" stroke-width="1.2" fill="none"/>
<path d="M219.90 430.60H360.51" stroke="#000" stroke-width="1.5" fill="none"/>
<text font-family="Liberation Sans, sans-serif" font-weight="bold" font-size="6.8" x="218.5" y="433.25" text-anchor="end" fill="#111" stroke="#111" stroke-width="0.35">0</text>
<text font-family="Liberation Sans, sans-serif" font-weight="bold" font-size="6.8" x="218.5" y="422.70" text-anchor="end" fill="#111" stroke="#111" stroke-width="0.35">10</text>
<text font-family="Liberation Sans, sans-serif" font-weight="bold" font-size="6.8" x="218.5" y="412.15" text-anchor="end" fill="#111" stroke="#111" stroke-width="0.35">20</text>
<text font-family="Liberation Sans, sans-serif" font-weight="bold" font-size="6.8" x="218.5" y="401.60" text-anchor="end" fill="#111" stroke="#111" stroke-width="0.35">30</text>
<text font-family="Liberation Sans, sans-serif" font-weight="bold" font-size="6.8" x="218.5" y="391.05" text-anchor="end" fill="#111" stroke="#111" stroke-width="0.35">40</text>
<text font-family="Liberation Sans, sans-serif" font-weight="bold" font-size="6.8" x="218.5" y="380.50" text-anchor="end" fill="#111" stroke="#111" stroke-width="0.35">50</text>
<text font-family="Liberation Sans, sans-serif" font-weight="bold" font-size="6.8" x="218.5" y="369.95" text-anchor="end" fill="#111" stroke="#111" stroke-width="0.35">60</text>
<text font-family="Liberation Sans, sans-serif" font-weight="bold" font-size="6.8" x="218.5" y="359.40" text-anchor="end" fill="#111" stroke="#111" stroke-width="0.35">70</text>
<text font-family="Liberation Sans, sans-serif" font-weight="bold" font-size="6.8" x="218.5" y="348.85" text-anchor="end" fill="#111" stroke="#111" stroke-width="0.35">80</text>
<text font-family="Liberation Sans, sans-serif" font-weight="bold" font-size="6.8" x="218.5" y="338.30" text-anchor="end" fill="#111" stroke="#111" stroke-width="0.35">90</text>
<text font-family="Liberation Sans, sans-serif" font-weight="bold" font-size="6.8" x="218.5" y="327.75" text-anchor="end" fill="#111" stroke="#111" stroke-width="0.35">100</text>
<path d="M219.00 430.80H220.50M219.00 420.25H220.50M219.00 409.70H220.50M219.00 399.15H220.50M219.00 388.60H220.50M219.00 378.05H220.50M219.00 367.50H220.50M219.00 356.95H220.50M219.00 346.40H220.50M219.00 335.85H220.50M219.00 325.30H220.50M220.50 430.80v2M234.55 430.80v1.2M242.77 430.80v1.2M248.60 430.80v1.2M253.12 430.80v1.2M256.82 430.80v1.2M259.94 430.80v1.2M262.65 430.80v1.2M265.03 430.80v1.2M267.17 430.80v2M281.22 430.80v1.2M289.44 430.80v1.2M295.27 430.80v1.2M299.79 430.80v1.2M303.49 430.80v1.2M306.61 430.80v1.2M309.32 430.80v1.2M311.70 430.80v1.2M313.84 430.80v2M327.89 430.80v1.2M336.11 430.80v1.2M341.94 430.80v1.2M346.46 430.80v1.2M350.16 430.80v1.2M353.28 430.80v1.2M355.99 430.80v1.2M358.37 430.80v1.2M360.51 430.80v2" stroke="#222" stroke-width="0.9"/>
<text font-family="Liberation Sans, sans-serif" font-weight="bold" font-size="6.8" x="220.50" y="440.70" text-anchor="middle" fill="#111" stroke="#111" stroke-width="0.35">0.1</text>
<text font-family="Liberation Sans, sans-serif" font-weight="bold" font-size="6.8" x="267.17" y="440.70" text-anchor="middle" fill="#111" stroke="#111" stroke-width="0.35">1</text>
<text font-family="Liberation Sans, sans-serif" font-weight="bold" font-size="6.8" x="313.84" y="440.70" text-anchor="middle" fill="#111" stroke="#111" stroke-width="0.35">10</text>
<text font-family="Liberation Sans, sans-serif" font-weight="bold" font-size="6.8" x="360.51" y="440.70" text-anchor="middle" fill="#111" stroke="#111" stroke-width="0.35">100</text>
<clipPath id="cF"><rect x="215.5" y="323.8" width="150" height="112"/></clipPath>
<g clip-path="url(#cF)">
<path d="M262.65 325.30V327.41M260.05 325.30h5.2M260.05 327.41h5.2M281.22 323.82V325.93M278.62 323.82h5.2M278.62 325.93h5.2M295.27 324.14V326.25M292.67 324.14h5.2M292.67 326.25h5.2M313.84 326.88V331.10M311.24 326.88h5.2M311.24 331.10h5.2M327.89 316.75V337.85M325.29 316.75h5.2M325.29 337.85h5.2M360.51 324.14V330.47M357.91 324.14h5.2M357.91 330.47h5.2" stroke="#5a5a5a" stroke-width="1" fill="none"/>
<path d="M248.60 325.83L262.65 326.36L281.22 324.88L295.27 325.19L313.84 328.99L327.89 327.30L360.51 327.30" stroke="#333" stroke-width="1.4" fill="none" stroke-linejoin="round"/>
<path d="M248.60 323.73L250.80 327.53H246.40Z" stroke="#444" stroke-width="0.9" fill="#fff"/>
<path d="M262.65 324.25L264.85 328.06H260.45Z" stroke="#444" stroke-width="0.9" fill="#fff"/>
<path d="M281.22 322.78L283.42 326.58H279.02Z" stroke="#444" stroke-width="0.9" fill="#fff"/>
<path d="M295.27 323.09L297.47 326.89H293.07Z" stroke="#444" stroke-width="0.9" fill="#fff"/>
<path d="M313.84 326.89L316.04 330.69H311.64Z" stroke="#444" stroke-width="0.9" fill="#fff"/>
<path d="M327.89 325.20L330.09 329.00H325.69Z" stroke="#444" stroke-width="0.9" fill="#fff"/>
<path d="M360.51 325.20L362.71 329.00H358.31Z" stroke="#444" stroke-width="0.9" fill="#fff"/>
<path d="M248.60 332.37V358.95M246.00 332.37h5.2M246.00 358.95h5.2M281.22 327.52V336.38M278.62 327.52h5.2M278.62 336.38h5.2M313.84 329.84V334.06M311.24 329.84h5.2M311.24 334.06h5.2M327.89 346.93V354.52M325.29 346.93h5.2M325.29 354.52h5.2M346.46 373.62V381.22M343.86 373.62h5.2M343.86 381.22h5.2M360.51 380.16V383.32M357.91 380.16h5.2M357.91 383.32h5.2" stroke="#222" stroke-width="1" fill="none"/>
<path d="M248.60 345.66L281.22 331.95L313.84 331.95L327.89 350.73L346.46 377.42L360.51 381.74" stroke="#111" stroke-width="1.45" fill="none" stroke-linejoin="round" stroke-dasharray="2.2,2.1"/>
<path d="M246.00 345.66L251.20 345.66M246.76 343.82L250.44 347.50M248.60 343.06L248.60 348.26M250.44 343.82L246.76 347.50" stroke="#111" stroke-width="1.2" fill="none"/>
<path d="M278.62 331.95L283.82 331.95M279.38 330.11L283.06 333.78M281.22 329.35L281.22 334.55M283.06 330.11L279.38 333.78" stroke="#111" stroke-width="1.2" fill="none"/>
<path d="M311.24 331.95L316.44 331.95M312.00 330.11L315.68 333.78M313.84 329.35L313.84 334.55M315.68 330.11L312.00 333.78" stroke="#111" stroke-width="1.2" fill="none"/>
<path d="M325.29 350.73L330.49 350.73M326.05 348.89L329.73 352.56M327.89 348.13L327.89 353.33M329.73 348.89L326.05 352.56" stroke="#111" stroke-width="1.2" fill="none"/>
<path d="M343.86 377.42L349.06 377.42M344.62 375.58L348.30 379.26M346.46 374.82L346.46 380.02M348.30 375.58L344.62 379.26" stroke="#111" stroke-width="1.2" fill="none"/>
<path d="M357.91 381.74L363.11 381.74M358.67 379.90L362.35 383.58M360.51 379.14L360.51 384.34M362.35 379.90L358.67 383.58" stroke="#111" stroke-width="1.2" fill="none"/>
<path d="M262.65 325.83V327.94M260.05 325.83h5.2M260.05 327.94h5.2M281.22 326.88V328.99M278.62 326.88h5.2M278.62 328.99h5.2M295.27 328.25V330.36M292.67 328.25h5.2M292.67 330.36h5.2M313.84 330.05V334.27M311.24 330.05h5.2M311.24 334.27h5.2M327.89 339.44V343.66M325.29 339.44h5.2M325.29 343.66h5.2M360.51 327.94V347.98M357.91 327.94h5.2M357.91 347.98h5.2" stroke="#222" stroke-width="1" fill="none"/>
<path d="M248.60 325.30L262.65 326.88L281.22 327.94L295.27 329.31L313.84 332.16L327.89 341.55L360.51 337.96" stroke="#111" stroke-width="1.8" fill="none" stroke-linejoin="round"/>
<rect x="246.30" y="323.00" width="4.6" height="4.6" fill="#111"/>
<rect x="260.35" y="324.58" width="4.6" height="4.6" fill="#111"/>
<rect x="278.92" y="325.64" width="4.6" height="4.6" fill="#111"/>
<rect x="292.97" y="327.01" width="4.6" height="4.6" fill="#111"/>
<rect x="311.54" y="329.86" width="4.6" height="4.6" fill="#111"/>
<rect x="325.59" y="339.25" width="4.6" height="4.6" fill="#111"/>
<rect x="358.21" y="335.66" width="4.6" height="4.6" fill="#111"/>
</g>
</svg>
</body></html>
